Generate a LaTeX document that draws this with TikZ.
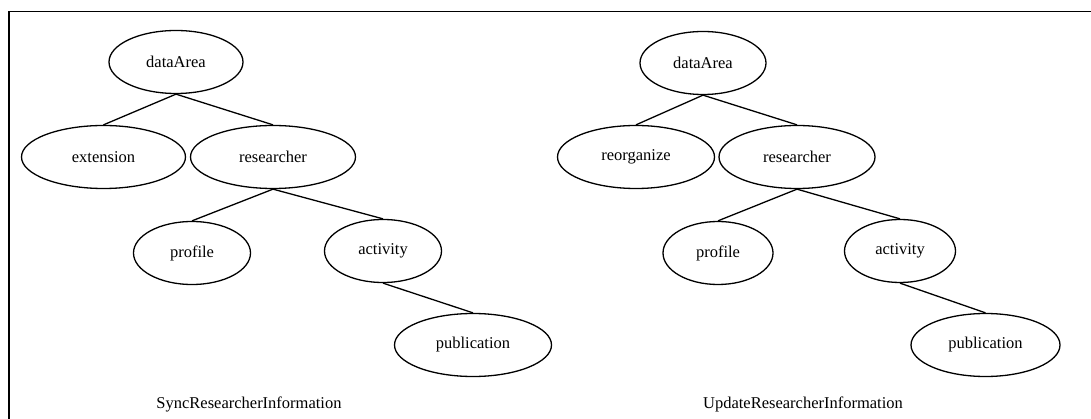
\documentclass[tikz,border=0pt]{standalone}
\usepackage{fontspec}
\setmainfont{Liberation Serif}
\usetikzlibrary{shapes.geometric}

\tikzset{
  elem/.style={draw, ellipse, line width=1.3pt, minimum height=63pt, inner sep=0pt,
    font=\fontsize{16.5}{20}\selectfont},
  edge/.style={line width=1.3pt},
  caption/.style={font=\fontsize{16.5}{20}\selectfont}
}

\begin{document}
\begin{tikzpicture}[x=1pt,y=-1pt]
  \useasboundingbox (0,0) rectangle (1091,419);
  \draw [line width=1.8pt] (9,419) -- (9,11.5) -- (1091,11.5);
  % left tree
  \node[elem, minimum width=134pt] (ldata) at (176,62) {dataArea};
  \node[elem, minimum width=164pt] (lext) at (103.5,157) {extension};
  \node[elem, minimum width=165pt] (lres) at (273,157) {researcher};
  \node[elem, minimum width=117pt] (lprof) at (192,253) {profile};
  \node[elem, minimum width=117pt] (lact) at (383,251) {activity};
  \node[elem, minimum width=157pt] (lpub) at (473,345) {publication};
  \node[caption] (lcap) at (249,404) {SyncResearcherInformation};
  \draw [edge] (ldata.south) -- (lext.north);
  \draw [edge] (ldata.south) -- (lres.north);
  \draw [edge] (lres.south) -- (lprof.north);
  \draw [edge] (lres.south) -- (lact.north);
  \draw [edge] (lact.south) -- (lpub.north);
  % right tree
  \node[elem, minimum width=126pt] (rdata) at (703,63) {dataArea};
  \node[elem, minimum width=157pt] (rreorg) at (636,157) {reorganize};
  \node[elem, minimum width=156pt] (rres) at (797,157) {researcher};
  \node[elem, minimum width=110pt] (rprof) at (718,253) {profile};
  \node[elem, minimum width=111pt] (ract) at (900,251) {activity};
  \node[elem, minimum width=149pt] (rpub) at (985.5,345) {publication};
  \node[caption] (rcap) at (803,404) {UpdateResearcherInformation};
  \draw [edge] (rdata.south) -- (rreorg.north);
  \draw [edge] (rdata.south) -- (rres.north);
  \draw [edge] (rres.south) -- (rprof.north);
  \draw [edge] (rres.south) -- (ract.north);
  \draw [edge] (ract.south) -- (rpub.north);
\end{tikzpicture}
\end{document}
